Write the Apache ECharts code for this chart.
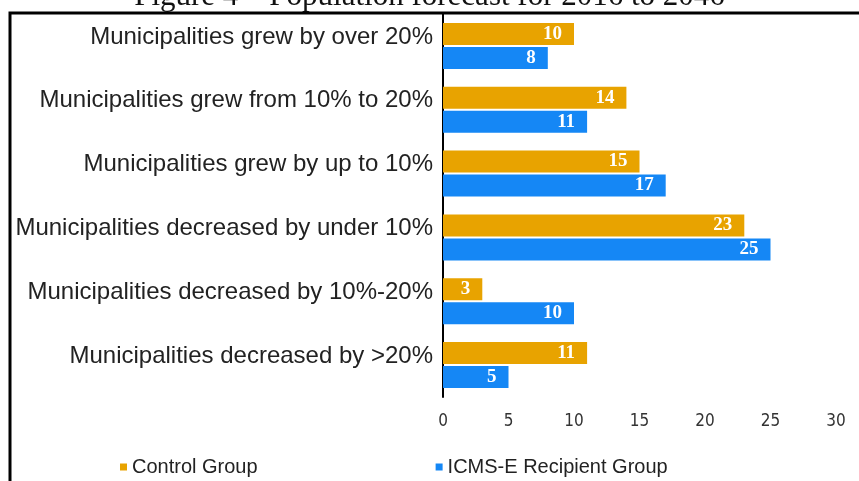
<!DOCTYPE html>
<html>
<head>
<meta charset="utf-8">
<title>Population forecast for 2016 to 2046</title>
<script src="https://cdn.jsdelivr.net/npm/echarts@6/dist/echarts.min.js"></script>
<style>
  html, body { margin: 0; padding: 0; background: #ffffff; }
  #chart { width: 859px; height: 481px; }
</style>
</head>
<body>
<div id="chart"></div>
<script>
// Municipality groups, listed top to bottom
const categories = [
  'Municipalities grew by over 20%',
  'Municipalities grew from 10% to 20%',
  'Municipalities grew by up to 10%',
  'Municipalities decreased by under 10%',
  'Municipalities decreased by 10%-20%',
  'Municipalities decreased by >20%'
];
const controlGroup = [10, 14, 15, 23, 3, 11];
const recipientGroup = [8, 11, 17, 25, 10, 5];
const xTicks = [0, 5, 10, 15, 20, 25, 30];
const figureTitle = 'Figure 4 \u2013 Population forecast for 2016 to 2046';

const chart = echarts.init(document.getElementById('chart'), null, { renderer: 'canvas' });

const valueLabel = {
  show: true,
  position: 'insideRight',
  distance: 12,
  color: '#ffffff',
  fontFamily: 'Liberation Serif',
  fontWeight: 'bold',
  fontSize: 19
};

chart.setOption({
  backgroundColor: '#ffffff',
  animation: false,
  graphic: [
    {
      type: 'text',
      left: 'center',
      top: -19,
      style: {
        text: figureTitle,
        font: '31px "Liberation Serif"',
        fill: '#111111'
      }
    },
    {
      type: 'polyline',
      shape: { points: [[10, 481], [10, 13], [859, 13]] },
      style: { stroke: '#000000', lineWidth: 3, fill: null }
    }
  ],
  legend: {
    left: 115,
    top: 452,
    icon: 'rect',
    itemWidth: 7,
    itemHeight: 7,
    itemGap: 178,
    textStyle: { fontFamily: 'Liberation Sans', fontSize: 20, color: '#222222' },
    data: ['Control Group', 'ICMS-E Recipient Group']
  },
  grid: { left: 443, right: 23, top: 14, bottom: 84, containLabel: false },
  xAxis: {
    type: 'value',
    min: xTicks[0],
    max: xTicks[xTicks.length - 1],
    interval: 5,
    axisLine: { show: false },
    axisTick: { show: false },
    splitLine: { show: false },
    axisLabel: {
      margin: 16,
      color: '#333333',
      fontFamily: "'DejaVu Sans Condensed', 'Liberation Sans Narrow', 'Liberation Sans'",
      fontSize: 17
    }
  },
  yAxis: {
    type: 'category',
    inverse: true,
    data: categories,
    axisLine: { show: true, lineStyle: { color: '#000000', width: 2 } },
    axisTick: { show: false },
    axisLabel: {
      margin: 10,
      color: '#222222',
      fontFamily: 'Liberation Sans',
      fontSize: 24,
      verticalAlign: 'bottom',
      lineHeight: 18
    }
  },
  series: [
    {
      name: 'Control Group',
      type: 'bar',
      data: controlGroup,
      barWidth: 22,
      barGap: '9%',
      itemStyle: { color: '#E8A300' },
      label: valueLabel
    },
    {
      name: 'ICMS-E Recipient Group',
      type: 'bar',
      data: recipientGroup,
      barWidth: 22,
      barGap: '9%',
      itemStyle: { color: '#1587F5' },
      label: valueLabel
    }
  ]
});
</script>
</body>
</html>
